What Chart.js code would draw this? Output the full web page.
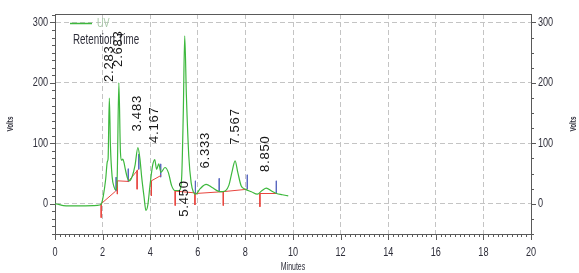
<!DOCTYPE html>
<html>
<head>
<meta charset="utf-8">
<title>UV chromatogram</title>
<script src="https://cdn.jsdelivr.net/npm/chart.js@4.4.1/dist/chart.umd.min.js"></script>
<style>
  html, body { margin: 0; padding: 0; background: #fff; }
</style>
</head>
<body>
<canvas id="chart" width="579" height="273"></canvas>
<script>
// UV trace (minutes / volts)
const traceTimes = [0.00, 0.15, 0.35, 1.00, 1.60, 1.88, 1.95, 2.03, 2.13, 2.20, 2.23, 2.283, 2.33, 2.40, 2.48, 2.55,
  2.61, 2.683, 2.75, 2.80, 2.85, 2.90, 2.96, 3.05, 3.12, 3.25, 3.36, 3.483, 3.57, 3.64, 3.74, 3.82, 3.90, 3.99,
  4.10, 4.19, 4.27, 4.36, 4.45, 4.62, 4.76, 4.90, 5.04, 5.22, 5.32, 5.39, 5.45, 5.52, 5.62, 5.72, 5.82, 5.92,
  6.10, 6.35, 6.60, 6.85, 7.05, 7.30, 7.45, 7.567, 7.68, 7.82, 8.00, 8.25, 8.50, 8.70, 8.88, 9.10, 9.31, 9.55, 9.80]
const traceVolts = [0, -1, -3, -3.5, -3, -2, 0, 13, 41, 70, 74, 175, 95, 45, 28, 23,
  40, 200, 85, 72, 74, 68, 56, 42, 38, 46, 63, 93, 74, 45, 12, -11, -2, 30,
  63, 73, 57, 66, 52, 60, 52, 30, 22, 22, 42, 150, 278, 180, 80, 35, 19, 16,
  25, 32, 27, 21, 20, 30, 55, 71, 52, 30, 24, 20, 16, 22, 26, 21, 17, 15, 13]

// integration baselines (each inner list is one segment)
const baselineSegments = [
  [[1.94, 0], [2.55, 21]],
  [[2.62, 38], [3.08, 37], [3.50, 57]],
  [[4.05, 38], [4.46, 47]],
  [[5.05, 21], [5.88, 18]],
  [[5.90, 17], [7.05, 20], [8.07, 24]],
  [[8.60, 17], [9.30, 17]]
]

// peak start marks (red, hanging down) and end marks (blue)
const startTimes = [1.94, 2.62, 3.45, 4.05, 5.05, 5.88, 7.07, 8.61]
const startTop = [0, 38, 55, 38, 22, 17, 20, 17]
const startBottom = [-23, 16, 24, 13, -3, -2, -3, -5]
const endTimes = [2.57, 3.08, 3.52, 4.44, 5.90, 6.90, 8.08, 9.30]
const endTop = [44, 58, 82, 66, 38, 42, 48, 38]
const endBottom = [21, 36, 57, 44, 17, 20, 24, 17]

// peak labels
const peakTimes = [2.283, 2.683, 3.483, 4.167, 5.450, 6.333, 7.567, 8.850]
const peakHeights = [175, 200, 93, 74, 278, 32, 71, 26]
const peakLabels = ["2.283", "2.683", "3.483", "4.167", "5.450", "6.333", "7.567", "8.850"]

// axis steps: labelled majors, small minor marks
const xMajor = 2, xMinor = 0.2
const yMajor = 100, yMinor = 12.5, y2Minor = 25

const sans = '"Liberation Sans", Arial, sans-serif'
const axisColor = "#5a5a5a"
const gridColor = "#c4c4c4"
const textColor = "#2e2e3a"
const squeeze = 0.7   // the original uses a condensed face, no narrow font here

const trace = traceTimes.map((t, i) => ({x: t, y: traceVolts[i]}))

let baseline = []
baselineSegments.forEach(seg => {
  seg.forEach(p => baseline.push({x: p[0], y: p[1]}))
  baseline.push({x: seg[seg.length - 1][0], y: null})
})

function marks(times, tops, bottoms) {
  let pts = []
  times.forEach((t, i) => {
    pts.push({x: t, y: tops[i]})
    pts.push({x: t, y: bottoms[i]})
    pts.push({x: t, y: null})
  })
  return pts
}

const isMult = (v, m) => Math.abs(v / m - Math.round(v / m)) < 1e-6

// walk a scale in fixed steps, handing back value and pixel
function eachStep(scale, step, fn) {
  const first = Math.ceil(scale.min / step - 1e-9)
  const last = Math.floor(scale.max / step + 1e-9)
  for (let k = first; k <= last; k++) {
    const v = k * step
    fn(v, Math.round(scale.getPixelForValue(v)) + 0.5)
  }
}

// condensed text helper
function narrowText(ctx, text, x, y, font, align, rot) {
  ctx.save()
  ctx.translate(x, y)
  if (rot) ctx.rotate(rot)
  ctx.scale(squeeze, 1)
  ctx.font = font
  ctx.textAlign = align
  ctx.textBaseline = "middle"
  ctx.fillText(text, 0, 0)
  ctx.restore()
}

const overlay = {
  id: "overlay",
  afterDraw(chart) {
    const {ctx, chartArea: a, scales: {x, y, y2}} = chart
    ctx.save()

    // top frame line
    ctx.strokeStyle = axisColor
    ctx.lineWidth = 1
    ctx.beginPath()
    ctx.moveTo(a.left, a.top + 0.5)
    ctx.lineTo(a.right, a.top + 0.5)

    // tick marks, major ones longer
    eachStep(x, xMinor, (v, px) => {
      ctx.moveTo(px, a.bottom)
      ctx.lineTo(px, a.bottom + (isMult(v, xMajor) ? 6 : 3))
    })
    eachStep(y, yMinor, (v, py) => {
      ctx.moveTo(a.left, py)
      ctx.lineTo(a.left - (isMult(v, yMajor) ? 5 : 3), py)
    })
    eachStep(y2, y2Minor, (v, py) => {
      ctx.moveTo(a.right, py)
      ctx.lineTo(a.right + (isMult(v, yMajor) ? 5 : 3), py)
    })
    ctx.stroke()

    // tick labels, taken from the library's ticks
    ctx.fillStyle = textColor
    const tf = "13px " + sans
    x.ticks.forEach((tk, i) => {
      if (tk.label) narrowText(ctx, tk.label, x.getPixelForTick(i), a.bottom + 18, tf, "center")
    })
    y.ticks.forEach((tk, i) => {
      if (tk.label) narrowText(ctx, tk.label, a.left - 7, y.getPixelForTick(i), tf, "right")
    })
    y2.ticks.forEach((tk, i) => {
      if (tk.label) narrowText(ctx, tk.label, a.right + 7, y2.getPixelForTick(i), tf, "left")
    })

    // axis titles
    narrowText(ctx, "Minutes", (a.left + a.right) / 2, 267, "10px " + sans, "center")
    const midY = (a.top + a.bottom) / 2
    narrowText(ctx, "Volts", 11, midY, "bold 9px " + sans, "center", -Math.PI / 2)
    narrowText(ctx, "Volts", 574, midY, "bold 9px " + sans, "center", -Math.PI / 2)

    // legend
    ctx.strokeStyle = "#3db83d"
    ctx.lineWidth = 1.5
    ctx.beginPath()
    ctx.moveTo(70, 23.5)
    ctx.lineTo(92, 23.5)
    ctx.stroke()
    ctx.fillStyle = "#a8c8a8"
    narrowText(ctx, "UV", 97, 23, "13px " + sans, "left")
    ctx.fillStyle = textColor
    narrowText(ctx, "Retention Time", 73, 40, "14px " + sans, "left")

    // peak retention time labels
    ctx.font = "13px " + sans
    ctx.letterSpacing = "0.8px"
    ctx.fillStyle = "#161616"
    ctx.textAlign = "left"
    ctx.textBaseline = "middle"
    peakTimes.forEach((t, i) => {
      const px = x.getPixelForValue(t)
      const w = ctx.measureText(peakLabels[i]).width
      let base = y.getPixelForValue(peakHeights[i]) - 16
      if (base - w < a.top) base = y.getPixelForValue(0) + 13
      ctx.save()
      ctx.translate(px, base)
      ctx.rotate(-Math.PI / 2)
      ctx.fillText(peakLabels[i], 0, 0)
      ctx.restore()
    })
    ctx.restore()
  }
}

const hidden = "rgba(0,0,0,0)"

new Chart(document.getElementById("chart"), {
  type: "line",
  data: {
    datasets: [
      {label: "UV", data: trace, borderColor: "#3db83d", borderWidth: 1.2, pointRadius: 0,
        cubicInterpolationMode: "monotone"},
      {label: "baseline", data: baseline, borderColor: "#e8453e", borderWidth: 1, pointRadius: 0, spanGaps: false},
      {label: "start", data: marks(startTimes, startTop, startBottom), borderColor: "#e8453e", borderWidth: 1,
        pointRadius: 0, spanGaps: false},
      {label: "end", data: marks(endTimes, endTop, endBottom), borderColor: "#5a68c0", borderWidth: 1,
        pointRadius: 0, spanGaps: false}
    ]
  },
  options: {
    responsive: false,
    animation: false,
    devicePixelRatio: 1,
    layout: {padding: {top: 14}},
    plugins: {legend: {display: false}, tooltip: {enabled: false}},
    scales: {
      x: {
        type: "linear", min: 0, max: 20,
        ticks: {stepSize: xMajor, color: hidden, maxRotation: 0},
        grid: {
          color: c => (c.tick.value > 0 && c.tick.value < 20) ? gridColor : hidden,
          drawTicks: false
        },
        border: {color: axisColor, dash: [5, 3]},
        afterFit: s => { s.height = 39; s.paddingLeft = 0; s.paddingRight = 0 }
      },
      y: {
        position: "left", min: -50, max: 314,
        ticks: {stepSize: yMajor, includeBounds: false, color: hidden},
        grid: {
          color: c => c.tick.value >= 0 ? gridColor : hidden,
          drawTicks: false
        },
        border: {color: axisColor, dash: [5, 3]},
        afterFit: s => { s.width = 55; s.paddingTop = 0; s.paddingBottom = 0 }
      },
      y2: {
        position: "right", min: -50, max: 314,
        ticks: {stepSize: yMajor, includeBounds: false, color: hidden},
        grid: {drawOnChartArea: false, drawTicks: false},
        border: {color: axisColor},
        afterFit: s => { s.width = 48; s.paddingTop = 0; s.paddingBottom = 0 }
      }
    }
  },
  plugins: [overlay]
})
</script>
</body>
</html>
